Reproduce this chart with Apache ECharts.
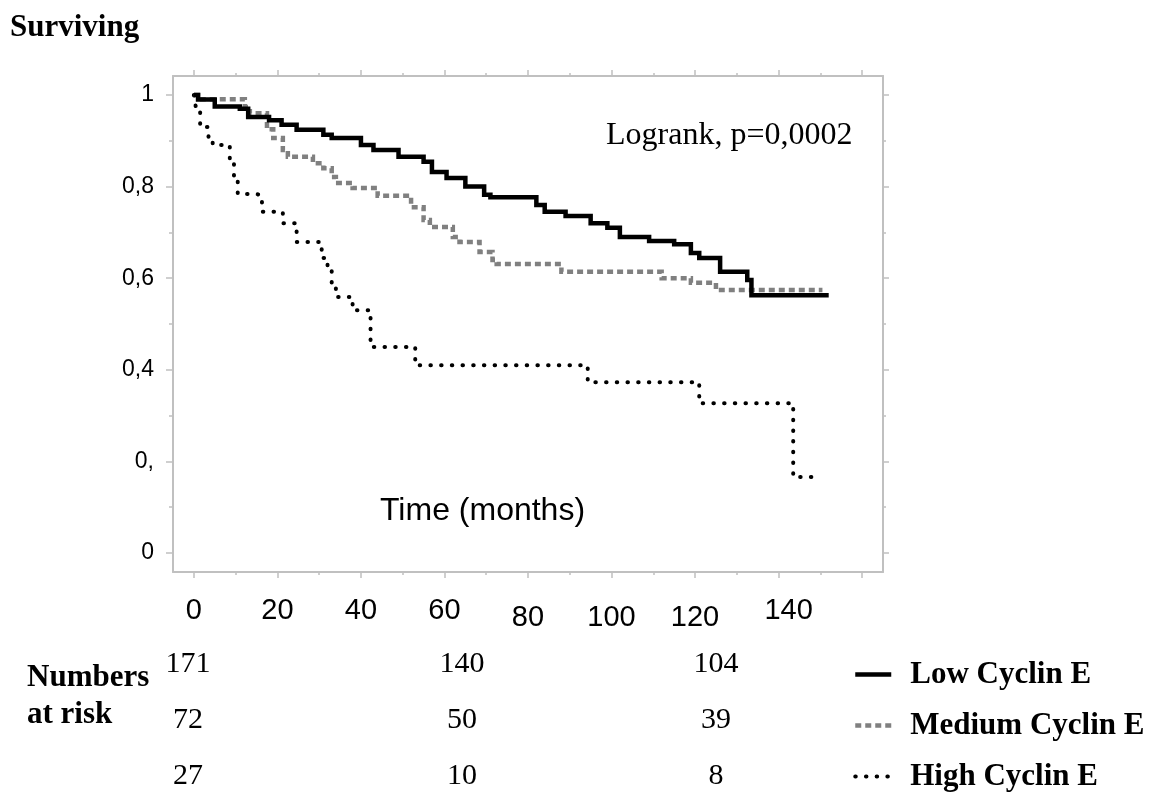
<!DOCTYPE html>
<html><head><meta charset="utf-8">
<script src="https://cdn.jsdelivr.net/npm/echarts@6/dist/echarts.min.js"></script>
<style>html,body{margin:0;padding:0;background:#fff}#c{width:1160px;height:799px}</style>
</head><body><div id="c"></div>
<script>
// ---------- data ----------
const seriesNames = ['Low Cyclin E', 'Medium Cyclin E', 'High Cyclin E'];
const lowCurve = [[0,1],[1,0.99],[5,0.975],[11,0.97],[13,0.952],[18,0.945],[21,0.935],[24.6,0.924],[31,0.913],[33,0.906],[40,0.891],[43,0.88],[49,0.865],[55,0.854],[57,0.832],[60.5,0.819],[65,0.80],[69.5,0.782],[71,0.777],[82,0.76],[84,0.745],[89,0.736],[95,0.72],[99,0.71],[102,0.69],[109,0.681],[115,0.674],[119,0.655],[121,0.644],[126,0.614],[132.5,0.596],[133.5,0.563],[152,0.563]];
const mediumCurve = [[0,1],[1,0.991],[12.2,0.974],[13.4,0.96],[17.5,0.925],[19,0.906],[21.3,0.88],[22.5,0.865],[28.5,0.851],[31,0.84],[33,0.821],[34,0.808],[38,0.797],[44,0.78],[52,0.755],[55,0.727],[56.5,0.712],[62,0.69],[63.6,0.679],[68.4,0.657],[71.5,0.64],[72.5,0.631],[88,0.614],[112,0.60],[119,0.59],[125,0.574],[150.5,0.574]];
const highCurve = [[0,1],[0.3,0.982],[0.6,0.967],[1.5,0.93],[3.5,0.904],[4.5,0.891],[8.6,0.858],[9.6,0.821],[10.5,0.784],[15,0.78],[16.3,0.745],[21.3,0.72],[24.6,0.679],[30.6,0.644],[32,0.616],[33,0.583],[34,0.559],[38,0.53],[42.3,0.45],[53,0.41],[94.3,0.373],[121,0.327],[143.5,0.166],[148,0.166]];
const xMajorTicks = [0,20,40,60,80,100,120,140,160];
const xMinorTicks = [10,30,50,70,90,110,130,150];
const xTickLabels = ['0','20','40','60','80','100','120','140'];
const xLabelValues = [0,20,40,60,80,100,120,140];
const yMajorTicks = [0,0.2,0.4,0.6,0.8,1];
const yMinorTicks = [0.1,0.3,0.5,0.7,0.9];
const yTickLabels = ['0','0,','0,4','0,6','0,8','1'];
const riskLow = [171,140,104];
const riskMedium = [72,50,39];
const riskHigh = [27,10,8];

// ---------- layout / style ----------
const SERIF = 'Liberation Serif', SANS = 'Liberation Sans';
const AX = '#c0c0c0';
const X_MIN = -5, X_MAX = 165, Y_MIN = -0.0415, Y_MAX = 1.0415;
const riskColX = [188, 462, 716];
const rowY = [664, 720, 776];
const xLabelRich = {
  n: {},
  lo: {padding: [7, 0, 0, 0]},
  r: {padding: [0, 0, 4, 20]}
};
const xLabelStyleKey = {80: 'lo', 100: 'lo', 120: 'lo', 140: 'r'};

function xAxisDef(pos, ticks, len, showLine, labels) {
  return {
    type: 'value', position: pos, min: X_MIN, max: X_MAX,
    axisLine: {show: showLine, onZero: false, lineStyle: {color: AX, width: 2}},
    axisTick: {show: true, inside: false, length: len, customValues: ticks, lineStyle: {color: AX, width: 1.5}},
    axisLabel: labels ? {
      show: true, customValues: xLabelValues, margin: 24,
      fontFamily: SANS, fontSize: 29, color: '#000',
      formatter: v => {
        const i = xLabelValues.indexOf(v);
        const t = i >= 0 ? xTickLabels[i] : '';
        return '{' + (xLabelStyleKey[v] || 'n') + '|' + t + '}';
      },
      rich: xLabelRich
    } : {show: false},
    splitLine: {show: false}
  };
}
function yAxisDef(pos, ticks, len, showLine, labels) {
  return {
    type: 'value', position: pos, min: Y_MIN, max: Y_MAX,
    axisLine: {show: showLine, onZero: false, lineStyle: {color: AX, width: 2}},
    axisTick: {show: true, inside: false, length: len, customValues: ticks, lineStyle: {color: AX, width: 1.5}},
    axisLabel: labels ? {
      show: true, customValues: yMajorTicks, margin: 19,
      fontFamily: SANS, fontSize: 23, color: '#000',
      formatter: v => {
        let best = 0;
        yMajorTicks.forEach((t, i) => { if (Math.abs(t - v) < Math.abs(yMajorTicks[best] - v)) best = i; });
        return yTickLabels[best];
      }
    } : {show: false},
    splitLine: {show: false}
  };
}

const styles = [
  {color: '#000', width: 4.5, type: 'solid', cap: 'butt', join: 'miter'},
  {color: '#808080', width: 4.5, type: [6, 4], cap: 'butt', join: 'miter'},
  {color: '#000', width: 4, type: [0.5, 10.2], cap: 'round', join: 'round'}
];
const curves = [lowCurve, mediumCurve, highCurve];

const graphics = [
  {type: 'text', left: 10, top: 12, style: {text: 'Surviving', font: 'bold 31px "' + SERIF + '"', fill: '#000'}},
  {type: 'text', left: 606, top: 120, style: {text: 'Logrank, p=0,0002', font: '32px "' + SERIF + '"', fill: '#000'}},
  {type: 'text', left: 380, top: 495, style: {text: 'Time (months)', font: '32px "' + SANS + '"', fill: '#000'}},
  {type: 'text', left: 27, top: 662, style: {text: 'Numbers', font: 'bold 31px "' + SERIF + '"', fill: '#000'}},
  {type: 'text', left: 27, top: 699, style: {text: 'at risk', font: 'bold 31px "' + SERIF + '"', fill: '#000'}}
];
[riskLow, riskMedium, riskHigh].forEach((row, r) => {
  row.forEach((v, c) => {
    graphics.push({type: 'text', x: riskColX[c], y: rowY[r],
      style: {text: String(v), font: '30px "' + SERIF + '"', fill: '#000', textAlign: 'center', textVerticalAlign: 'middle'}});
  });
});

const chart = echarts.init(document.getElementById('c'), null, {renderer: 'canvas'});
chart.setOption({
  animation: false,
  backgroundColor: '#fff',
  color: styles.map(s => s.color),
  grid: {left: 173, right: 277, top: 76, bottom: 227, outerBoundsMode: 'none', containLabel: false},
  xAxis: [
    xAxisDef('bottom', xMajorTicks, 6, true, true),
    xAxisDef('bottom', xMinorTicks, 3, false, false),
    xAxisDef('top', xMajorTicks, 6, true, false),
    xAxisDef('top', xMinorTicks, 3, false, false)
  ],
  yAxis: [
    yAxisDef('left', yMajorTicks, 7, true, true),
    yAxisDef('left', yMinorTicks, 4, false, false),
    yAxisDef('right', yMajorTicks, 6, true, false),
    yAxisDef('right', yMinorTicks, 3, false, false)
  ],
  legend: {
    orient: 'vertical', left: 848, top: 654, itemWidth: 36, itemHeight: 14, itemGap: 20,
    data: seriesNames.map((n, i) => ({name: n, lineStyle: {width: styles[i].width}})),
    itemStyle: {color: 'rgba(0,0,0,0)', borderColor: 'rgba(0,0,0,0)', borderWidth: 0, opacity: 0},
    lineStyle: {width: 4.5},
    textStyle: {fontFamily: SERIF, fontWeight: 'bold', fontSize: 31, color: '#000', padding: [0, 0, 0, 14]}
  },
  series: seriesNames.map((n, i) => ({
    name: n, type: 'line', step: 'end', data: curves[i], symbol: 'none',
    xAxisIndex: 0, yAxisIndex: 0, lineStyle: styles[i], silent: true, z: 3 - i
  })),
  graphic: graphics
});
</script></body></html>
